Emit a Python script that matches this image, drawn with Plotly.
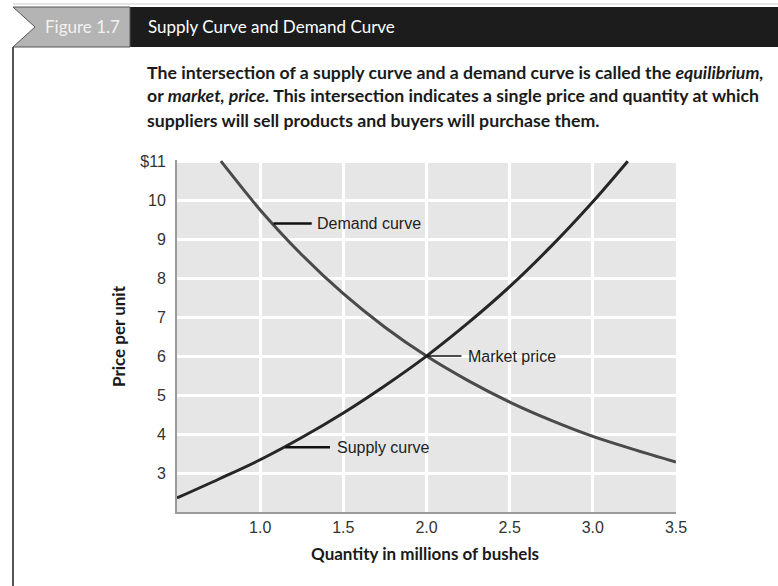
import plotly.graph_objects as go

# ---------------- data ----------------
supply_q = [0.5, 0.75, 1.0, 1.25, 1.5, 1.75, 2.0, 2.25, 2.5, 2.75, 3.0, 3.21]
supply_p = [2.36, 2.84, 3.34, 3.91, 4.54, 5.24, 6.0, 6.85, 7.78, 8.82, 9.96, 11.0]

demand_q = [0.764, 0.9, 1.0, 1.25, 1.5, 1.75, 2.0, 2.25, 2.5, 2.75, 3.0, 3.25, 3.5]
demand_p = [11.0, 10.27, 9.75, 8.6, 7.6, 6.74, 6.0, 5.37, 4.82, 4.35, 3.94, 3.6, 3.28]

label_texts = ["Demand curve", "Market price", "Supply curve"]
leader_start_q = [1.08, 2.0, 1.15]
leader_end_q = [1.31, 2.21, 1.42]
leader_p = [9.4, 6.0, 3.66]
label_q = [1.33, 2.24, 1.45]

y_ticks = [3, 4, 5, 6, 7, 8, 9, 10, 11]
y_tick_labels = ["3", "4", "5", "6", "7", "8", "9", "10", "$11"]
x_ticks = [1.0, 1.5, 2.0, 2.5, 3.0, 3.5]
x_tick_labels = ["1.0", "1.5", "2.0", "2.5", "3.0", "3.5"]

fig_label = "Figure 1.7"
fig_title = "Supply Curve and Demand Curve"
intro_lines = [
    "The intersection of a supply curve and a demand curve is called the <i>equilibrium,</i>",
    "or <i>market, price.</i> This intersection indicates a single price and quantity at which",
    "suppliers will sell products and buyers will purchase them.",
]
x_title = "Quantity in millions of bushels"
y_title = "Price per unit"

# ---------------- layout geometry ----------------
W, H = 778, 586
L, R, T, B = 177, 676, 160, 512


def px(x):
    return (x - L) / (R - L)


def py(y):
    return (B - y) / (B - T)


fig = go.Figure()

fig.add_trace(go.Scatter(x=demand_q, y=demand_p, mode="lines",
                         line=dict(color="#4a4a4a", width=3, shape="spline"),
                         hoverinfo="skip", showlegend=False))
fig.add_trace(go.Scatter(x=supply_q, y=supply_p, mode="lines",
                         line=dict(color="#262626", width=3, shape="spline"),
                         hoverinfo="skip", showlegend=False))

for i, t in enumerate(label_texts):
    fig.add_trace(go.Scatter(x=[leader_start_q[i], leader_end_q[i]], y=[leader_p[i], leader_p[i]],
                             mode="lines", line=dict(color="#111111", width=2.5 if i != 1 else 1.5),
                             hoverinfo="skip", showlegend=False))
    fig.add_annotation(x=label_q[i], y=leader_p[i], text=t, showarrow=False,
                       xanchor="left", yanchor="middle",
                       font=dict(family="Liberation Sans", size=16, color="#222222"))

shapes = []
# top faint line
shapes.append(dict(type="line", xref="paper", yref="paper", x0=px(13), x1=px(778), y0=py(4), y1=py(4),
                   line=dict(color="#cccccc", width=1)))
# black title bar
shapes.append(dict(type="rect", xref="paper", yref="paper", x0=px(130), x1=px(778), y0=py(47), y1=py(7),
                   fillcolor="#1c1c1c", line=dict(width=0)))
# gray tab with notch
path = "M {a},{b} L {c},{b} L {c},{d} L {a},{d} L {e},{f} Z".format(
    a=px(13), b=py(7), c=px(130), d=py(47), e=px(35), f=py(27))
shapes.append(dict(type="path", xref="paper", yref="paper", path=path,
                   fillcolor="#b4b4b4", line=dict(color="#555555", width=1)))
# left border line
shapes.append(dict(type="line", xref="paper", yref="paper", x0=px(13), x1=px(13), y0=py(47), y1=py(590),
                   line=dict(color="#555555", width=2)))

fig.update_layout(shapes=shapes)

fig.add_annotation(xref="paper", yref="paper", x=px(82), y=py(27), text=fig_label, showarrow=False,
                   xanchor="center", yanchor="middle",
                   font=dict(family="Lato", size=17, color="#f2f2f2"))
fig.add_annotation(xref="paper", yref="paper", x=px(146), y=py(27), text=fig_title, showarrow=False,
                   xanchor="left", yanchor="middle",
                   font=dict(family="Lato", size=17, color="#ffffff"))

line_y = [72, 96, 120]
for yy, t in zip(line_y, intro_lines):
    fig.add_annotation(xref="paper", yref="paper", x=px(145), y=py(yy), text=t, showarrow=False,
                       xanchor="left", yanchor="middle",
                       font=dict(family="Lato", size=17.7, color="#1a1a1a", weight=700))

fig.add_annotation(xref="paper", yref="paper", x=px(425), y=py(553), text=x_title, showarrow=False,
                   xanchor="center", yanchor="middle",
                   font=dict(family="Lato", size=17, color="#1a1a1a", weight=700))
fig.add_annotation(xref="paper", yref="paper", x=px(118), y=py(336), text=y_title, showarrow=False,
                   xanchor="center", yanchor="middle", textangle=-90,
                   font=dict(family="Lato", size=17, color="#1a1a1a", weight=700))

fig.update_layout(
    width=W, height=H,
    margin=dict(l=L, r=W - R, t=T, b=H - B),
    paper_bgcolor="white",
    plot_bgcolor="#e6e6e6",
    xaxis=dict(range=[0.5, 3.5], tickvals=x_ticks, ticktext=x_tick_labels,
               showgrid=True, gridcolor="white", gridwidth=2.5,
               showline=True, linecolor="#9a9a9a", linewidth=2,
               zeroline=False, ticks="", ticklabelstandoff=0,
               tickfont=dict(family="Liberation Sans", size=16, color="#333333")),
    yaxis=dict(range=[2.0, 11.03], tickvals=y_ticks, ticktext=y_tick_labels,
               showgrid=True, gridcolor="white", gridwidth=2.5,
               showline=True, linecolor="#9a9a9a", linewidth=2,
               zeroline=False, ticks="", ticklabelstandoff=6,
               tickfont=dict(family="Liberation Sans", size=16, color="#333333")),
)

fig.write_html("out.html", config={"displayModeBar": False},
               post_script="document.body.style.margin='0';")
